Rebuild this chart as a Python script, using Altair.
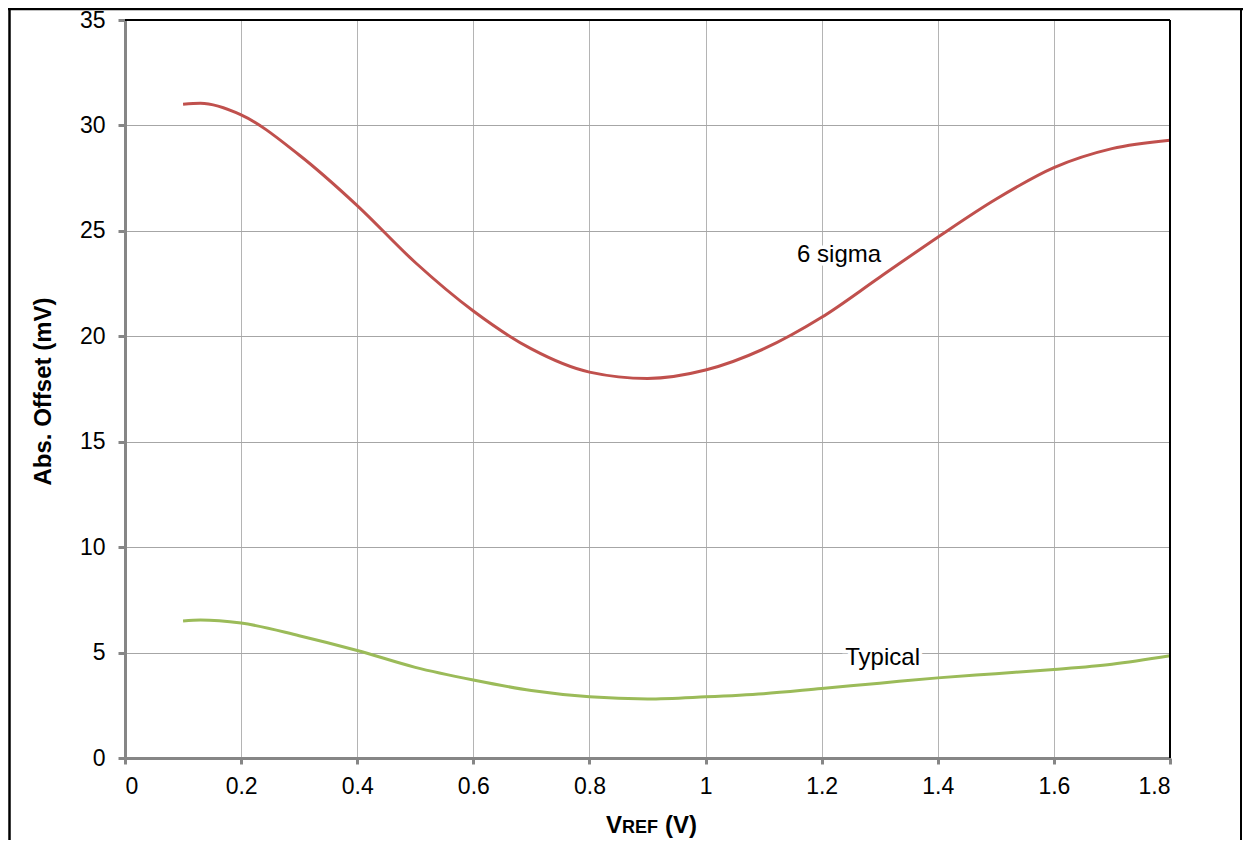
import altair as alt
import pandas as pd

# ---- data ----
vref = [0.1, 0.13, 0.2, 0.3, 0.4, 0.5, 0.6, 0.7, 0.8, 0.9, 1.0, 1.1, 1.2, 1.3, 1.4, 1.5, 1.6, 1.7, 1.8]
sigma6 = [31.0, 31.05, 30.5, 28.6, 26.2, 23.5, 21.2, 19.4, 18.3, 18.0, 18.4, 19.4, 20.9, 22.8, 24.7, 26.5, 28.0, 28.9, 29.3]
typical = [6.5, 6.55, 6.4, 5.8, 5.1, 4.3, 3.7, 3.2, 2.9, 2.8, 2.9, 3.05, 3.3, 3.55, 3.8, 4.0, 4.2, 4.45, 4.85]

series_names = ["6 sigma", "Typical"]
series_colors = ["#C0504D", "#9BBB59"]

label_text = ["6 sigma", "Typical"]
label_x = [1.23, 1.305]
label_y = [23.85, 4.74]

x_ticks = [0, 0.2, 0.4, 0.6, 0.8, 1.0, 1.2, 1.4, 1.6, 1.8]
y_ticks = [0, 5, 10, 15, 20, 25, 30, 35]

FONT = "Liberation Sans"
W, H = 1045, 738

df = pd.DataFrame({
    "vref": vref * 2,
    "offset": sigma6 + typical,
    "series": [series_names[0]] * len(vref) + [series_names[1]] * len(vref),
})
labels = pd.DataFrame({"text": label_text, "x": label_x, "y": label_y})

xscale = alt.Scale(domain=[0, 1.8], nice=False, zero=False)
yscale = alt.Scale(domain=[0, 35], nice=False)

x_axis = alt.Axis(
    values=x_ticks, format="~g", title=None,
    domainColor="#868686", domainWidth=3,
    tickColor="#868686", tickWidth=3, tickSize=6,
    gridColor="#B4B4B4", gridWidth=1,
    labelFont=FONT, labelFontSize=23, labelColor="black", labelPadding=11,
)
y_axis = alt.Axis(
    values=y_ticks, title="Abs. Offset (mV)",
    domainColor="#868686", domainWidth=3,
    tickColor="#868686", tickWidth=3, tickSize=7,
    gridColor="#A6A6A6", gridWidth=1,
    labelFont=FONT, labelFontSize=23, labelColor="black", labelPadding=13,
    titleFont=FONT, titleFontSize=24, titleFontWeight="bold", titleColor="black",
    titleAngle=270, titleX=-82, titleY=H / 2 + 2, titleAlign="center", titleBaseline="middle",
)

lines = alt.Chart(df).mark_line(strokeWidth=3, interpolate="monotone").encode(
    x=alt.X("vref:Q", scale=xscale, axis=x_axis),
    y=alt.Y("offset:Q", scale=yscale, axis=y_axis),
    color=alt.Color("series:N", scale=alt.Scale(domain=series_names, range=series_colors), legend=None),
)

halo = alt.Chart(labels).mark_text(
    font=FONT, fontSize=24, stroke="white", strokeWidth=7, fill="white", align="center", baseline="middle"
).encode(x=alt.X("x:Q", scale=xscale), y=alt.Y("y:Q", scale=yscale), text="text:N")

txt = alt.Chart(labels).mark_text(
    font=FONT, fontSize=24, color="black", align="center", baseline="middle"
).encode(x=alt.X("x:Q", scale=xscale), y=alt.Y("y:Q", scale=yscale), text="text:N")

# plot frame (top and right black)
top_rule = alt.Chart().mark_rule(color="black", strokeWidth=2).encode(
    x=alt.value(0), x2=alt.value(W), y=alt.value(0))
right_rule = alt.Chart().mark_rule(color="black", strokeWidth=2).encode(
    x=alt.value(W), y=alt.value(0), y2=alt.value(H))

# outer chart frame
outer_left = alt.Chart().mark_rule(color="black", strokeWidth=2.5).encode(
    x=alt.value(-115.5), y=alt.value(-12), y2=alt.value(900))
outer_top = alt.Chart().mark_rule(color="black", strokeWidth=2.5).encode(
    x=alt.value(-117), x2=alt.value(1140), y=alt.value(-11))
outer_right = alt.Chart().mark_rule(color="black", strokeWidth=2).encode(
    x=alt.value(1116), y=alt.value(-12), y2=alt.value(900))

# x title "VREF (V)" with small caps
TY = 813
xt_v = alt.Chart().mark_text(font=FONT, fontSize=24, fontWeight="bold", align="left", baseline="alphabetic", color="black").encode(
    x=alt.value(481), y=alt.value(TY), text=alt.value("V"))
xt_ref = alt.Chart().mark_text(font=FONT, fontSize=18, fontWeight="bold", align="left", baseline="alphabetic", color="black").encode(
    x=alt.value(497), y=alt.value(TY), text=alt.value("REF"))
xt_unit = alt.Chart().mark_text(font=FONT, fontSize=24, fontWeight="bold", align="left", baseline="alphabetic", color="black").encode(
    x=alt.value(540), y=alt.value(TY), text=alt.value("(V)"))

chart = alt.layer(
    lines, halo, txt, top_rule, right_rule,
    outer_left, outer_top, outer_right, xt_v, xt_ref, xt_unit,
).properties(
    width=W, height=H,
    autosize=alt.AutoSizeParams(type="none"),
    padding={"left": 117, "top": 12, "right": 73, "bottom": 82},
).configure_view(stroke=None).configure(background="white")

chart.save("out.html", embed_options={"renderer": "svg", "actions": False})
